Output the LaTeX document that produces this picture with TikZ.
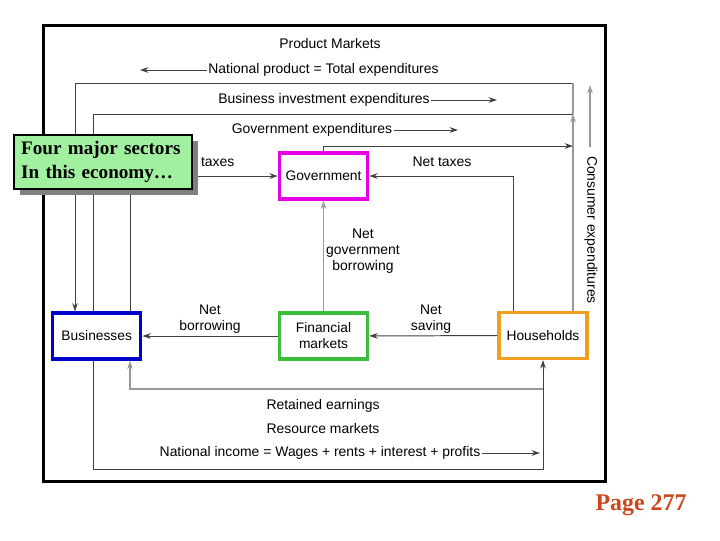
\documentclass[tikz,border=0pt]{standalone}
\usepackage{fontspec}
\setmainfont{Liberation Serif}
\newfontfamily\labelfont{Liberation Sans}
\usetikzlibrary{arrows.meta,positioning,shadows}
\definecolor{govMagenta}{RGB}{230,0,230}
\definecolor{busBlue}{RGB}{0,0,205}
\definecolor{finGreen}{RGB}{60,190,60}
\definecolor{hhOrange}{RGB}{240,160,30}
\definecolor{calloutGreen}{RGB}{160,240,160}
\definecolor{pageRed}{RGB}{205,70,25}
\begin{document}
\begin{tikzpicture}[x=0.025cm,y=-0.025cm,
  sector/.style={draw,line width=2.5pt,fill=white,minimum width=2.2cm,minimum height=1.14cm,
    align=center,font=\labelfont\fontsize{9.8}{11.3}\selectfont},
  lbl/.style={font=\labelfont\fontsize{9.9}{11.3}\selectfont,align=center,inner sep=1pt},
  flowdark/.style={draw=black!75,line width=0.7pt},
  flowlight/.style={draw=black!40,line width=0.8pt},
  flowtip/.style={-{Stealth[length=6pt,width=4pt]}}]
  \useasboundingbox (0,0) rectangle (720,540);
  \draw[line width=2.1pt] (43.5,25.5) rectangle (605.5,481.5);

  \node[sector,draw=govMagenta] (gov) at (323.5,176) {Government};
  \node[sector,draw=busBlue] (bus) at (96.7,336) {Businesses};
  \node[sector,draw=finGreen] (fin) at (323.5,336) {Financial\\markets};
  \node[sector,draw=hhOrange] (hh) at (543,335.5) {Households};

  \coordinate (ne) at (573,83);
  \coordinate (nw) at (75,83);
  \coordinate (invw) at (93,114);
  \coordinate (inve) at (573,114);
  \coordinate (gove) at (573,146);
  \coordinate (taxw) at (130,177);
  \coordinate (ntaxe) at (513,177);
  \coordinate (retw) at (130,389);
  \coordinate (rete) at (543,389);
  \coordinate (incw) at (93,469);
  \coordinate (ince) at (543,469);

  \draw[flowdark,flowtip] (ne) -- (nw) -- (nw |- bus.north);
  \draw[flowlight] (inve) -- (ne);
  \draw[flowlight,flowtip] (ne |- hh.north) -- (inve);
  \draw[flowdark] (invw |- bus.north) -- (invw) -- (inve);
  \draw[flowdark,flowtip] (gov.north) |- (gove);
  \draw[flowdark,flowtip] (taxw |- bus.north) |- (gov.west);
  \draw[flowdark,flowtip] (ntaxe |- hh.north) |- (gov.east);
  \draw[flowlight,flowtip] (fin) -- (gov);
  \draw[flowdark,flowtip] (hh) -- (fin);
  \draw[flowdark,flowtip] (fin) -- (bus);
  \draw[flowlight,flowtip] (rete) -- (retw) -- (retw |- bus.south);
  \draw[flowdark,flowtip] (incw |- bus.south) -- (incw) -- (ince) -- (ince |- hh.south);

  \node[lbl] (prodmkt) at (330,44) {Product Markets};
  \node[lbl] (natprod) at (323.5,70) {National product = Total expenditures};
  \node[lbl] (bizinv) at (324,100) {Business investment expenditures};
  \node[lbl] (govexp) at (312,130) {Government expenditures};
  \node[lbl,anchor=east] (taxes) at (236,162) {taxes};
  \node[lbl] (nettax) at (442,162) {Net taxes};
  \node[lbl] (netgov) at (363,251) {Net\\government\\borrowing};
  \node[lbl] (netbor) at (210,319) {Net\\borrowing};
  \node[lbl] (netsav) at (431,319) {Net\\saving};
  \node[lbl] (retain) at (323,406) {Retained earnings};
  \node[lbl] (resmkt) at (323,429) {Resource markets};
  \node[lbl] (natinc) at (320,453) {National income = Wages + rents + interest + profits};
  \node[lbl,rotate=-90] (consexp) at (591,230) {Consumer expenditures};

  \coordinate (npend) at (140,70);
  \coordinate (bizend) at (497,100);
  \coordinate (govend) at (458,130);
  \coordinate (cestart) at (590,147);
  \coordinate (ceend) at (590,85);
  \coordinate (incend) at (540,453);
  \draw[flowdark,flowtip] (natprod.west) -- (npend);
  \draw[flowdark,flowtip] (bizinv.east) -- (bizend);
  \draw[flowdark,flowtip] (govexp.east) -- (govend);
  \draw[flowlight,flowtip] (cestart) -- (ceend);
  \draw[flowdark,flowtip] (natinc.east) -- (incend);

  \node[draw,line width=1.4pt,fill=calloutGreen,minimum width=4.43cm,minimum height=1.35cm,
    inner xsep=0.17cm,text width=4.09cm,align=left,font=\bfseries\fontsize{13.6}{16.5}\selectfont,
    drop shadow={shadow xshift=4.3pt,shadow yshift=-4.3pt,fill=black!50,opacity=1}]
    (sectors) at (103,162) {Four major sectors\\In this economy…};
  \node[font=\bfseries\fontsize{17}{20}\selectfont,text=pageRed] (page) at (641,505) {Page 277};
\end{tikzpicture}
\end{document}
